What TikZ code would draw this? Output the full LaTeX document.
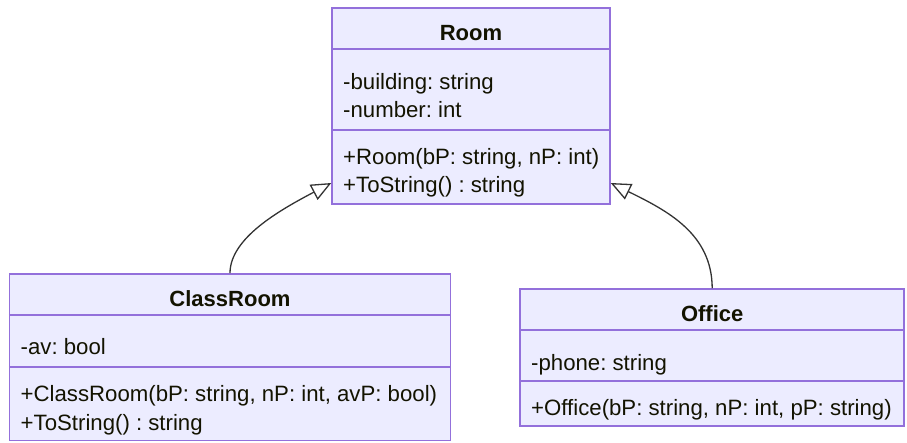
\documentclass[tikz,border=0pt]{standalone}
\usepackage{fontspec}
\setmainfont{Liberation Sans}
\frenchspacing
\usetikzlibrary{arrows.meta,positioning,calc}
\definecolor{classfill}{HTML}{ECECFF}
\definecolor{classline}{HTML}{9370DB}
\definecolor{classtext}{HTML}{131300}
\definecolor{edgeline}{HTML}{333333}
\tikzset{
  classbox/.style={draw=classline,fill=classfill,line width=1.5pt,inner sep=0pt},
  divider/.style={draw=classline,line width=1.5pt},
  classname/.style={anchor=base,inner sep=0pt,text=classtext,
                    font=\bfseries\fontsize{22}{26}\selectfont},
  member/.style={anchor=base west,inner sep=0pt,text=classtext,
                 font=\fontsize{22.2}{26}\selectfont},
  inherit/.style={-{Triangle[length=20pt,width=17pt,fill=white]},
                  draw=edgeline,line width=1.3pt}
}
\begin{document}
\begin{tikzpicture}[x=1pt,y=-1pt]
  \useasboundingbox (0,0) rectangle (907,443);

  % base class
  \node[classbox,minimum width=278pt,minimum height=196pt] (room) at (471,106) {};
  \draw[divider] (room.west |- 0,49) -- (room.east |- 0,49);
  \draw[divider] (room.west |- 0,130) -- (room.east |- 0,130);
  \node[classname] (roomname) at (471,40.5) {Room};
  \node[member] (roomattr1) at (343,89.5) {-building: string};
  \node[member] (roomattr2) at (343,118) {-number: int};
  \node[member] (roommeth1) at (343,164.5) {+Room(bP: string, nP: int)};
  \node[member] (roommeth2) at (343,193) {+ToString() : string};

  % derived classes
  \node[classbox,minimum width=441pt,minimum height=166.5pt] (classroom) at (230,357.2) {};
  \draw[divider] (classroom.west |- 0,315) -- (classroom.east |- 0,315);
  \draw[divider] (classroom.west |- 0,367) -- (classroom.east |- 0,367);
  \node[classname] (crname) at (230,307) {ClassRoom};
  \node[member] (crattr1) at (20.5,355) {-av: bool};
  \node[member] (crmeth1) at (20.5,401.5) {+ClassRoom(bP: string, nP: int, avP: bool)};
  \node[member] (crmeth2) at (20.5,430) {+ToString() : string};

  \node[classbox,minimum width=384pt,minimum height=137pt] (office) at (712.2,357.5) {};
  \draw[divider] (office.west |- 0,330) -- (office.east |- 0,330);
  \draw[divider] (office.west |- 0,381) -- (office.east |- 0,381);
  \node[classname] (offname) at (712.2,321.7) {Office};
  \node[member] (offattr1) at (531,370.5) {-phone: string};
  \node[member] (offmeth1) at (531,415.5) {+Office(bP: string, nP: int, pP: string)};

  % inheritance
  \coordinate (roomleft) at (room.west |- 0,183);
  \coordinate (roomright) at (room.east |- 0,183);
  \draw[inherit] (classroom.north) .. controls (230,238) and (280,210) .. (roomleft);
  \draw[inherit] (office.north) .. controls (712,234) and (668,211) .. (roomright);
\end{tikzpicture}
\end{document}
